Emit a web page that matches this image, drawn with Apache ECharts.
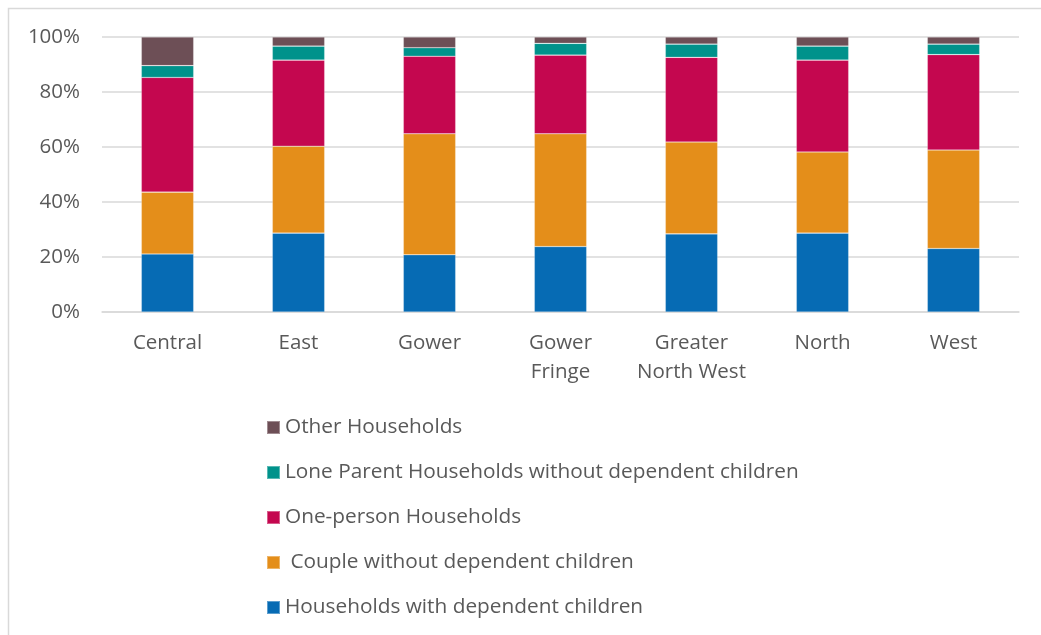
<!DOCTYPE html>
<html>
<head>
<meta charset="utf-8">
<title>Household composition by area</title>
<script src="https://cdn.jsdelivr.net/npm/echarts@6/dist/echarts.min.js"></script>
<style>
  html, body { margin: 0; padding: 0; background: #fff; }
  #chart { width: 1041px; height: 635px; }
</style>
</head>
<body>
<div id="chart"></div>
<script>
// Areas along the x axis
const categories = ['Central', 'East', 'Gower', 'Gower\nFringe', 'Greater\nNorth West', 'North', 'West'];

// Share of households (%) per area, bottom segment first
const withDependentChildren = [21.1, 28.7, 20.8, 23.8, 28.4, 28.7, 23.1];
const coupleNoChildren      = [22.5, 31.6, 44.0, 41.0, 33.4, 29.5, 35.8];
const onePerson             = [41.7, 31.3, 28.2, 28.6, 30.8, 33.4, 34.7];
const loneParentNoChildren  = [4.3, 5.1, 3.1, 4.3, 4.8, 5.1, 3.8];
const otherHouseholds       = [10.4, 3.3, 3.9, 2.3, 2.6, 3.3, 2.6];

const yTicks = [0, 20, 40, 60, 80, 100];

const seriesDefs = [
  { name: 'Households with dependent children', data: withDependentChildren, color: '#066BB4' },
  { name: ' Couple without dependent children', data: coupleNoChildren, color: '#E48E1A' },
  { name: 'One-person Households', data: onePerson, color: '#C4074F' },
  { name: 'Lone Parent Households without dependent children', data: loneParentNoChildren, color: '#00928B' },
  { name: 'Other Households', data: otherHouseholds, color: '#6D4F56' }
];

const chart = echarts.init(document.getElementById('chart'), null, { renderer: 'canvas' });

const textColor = '#595959';
const fontFamily = '"Open Sans", "Liberation Sans", sans-serif';

chart.setOption({
  animation: false,
  backgroundColor: '#fff',
  graphic: [{
    type: 'rect',
    shape: { x: 8.5, y: 8.5, width: 1100, height: 700 },
    style: { fill: 'none', stroke: '#d9d9d9', lineWidth: 1.5 },
    silent: true,
    z: -1
  }],
  grid: { left: 102, right: 22, top: 37, bottom: 323, containLabel: false },
  legend: {
    orient: 'vertical',
    left: 261,
    top: 412,
    itemWidth: 13,
    itemHeight: 13,
    itemGap: 24,
    icon: 'rect',
    data: seriesDefs.map(s => s.name).reverse(),
    textStyle: { color: textColor, fontSize: 20.8, lineHeight: 21, fontFamily: fontFamily }
  },
  xAxis: {
    type: 'category',
    data: categories,
    axisLine: { show: true, lineStyle: { color: '#d9d9d9', width: 1.5 } },
    axisTick: { show: false },
    axisLabel: {
      color: textColor, fontSize: 20.5, fontFamily: fontFamily,
      margin: 17, lineHeight: 29, interval: 0
    }
  },
  yAxis: {
    type: 'value',
    min: yTicks[0],
    max: yTicks[yTicks.length - 1],
    interval: 20,
    axisLine: { show: false },
    axisTick: { show: false },
    splitLine: { lineStyle: { color: '#d9d9d9', width: 1.5 } },
    axisLabel: {
      color: textColor, fontSize: 20.5, fontFamily: fontFamily, margin: 22,
      formatter: v => v + '%'
    }
  },
  series: seriesDefs.map(s => ({
    type: 'bar',
    name: s.name,
    stack: 'total',
    barWidth: '40%',
    data: s.data,
    itemStyle: { color: s.color, borderColor: 'rgba(255,255,255,0.35)', borderWidth: 0.6 },
    emphasis: { disabled: true }
  }))
});
</script>
</body>
</html>
